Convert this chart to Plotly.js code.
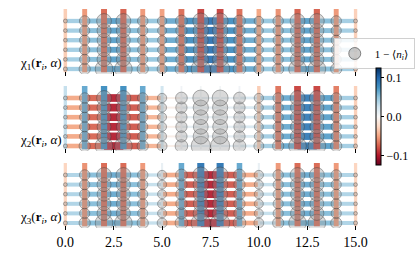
<!DOCTYPE html>
<html><head><meta charset="utf-8">
<script src="https://cdn.plot.ly/plotly-3.0.1.min.js"></script>
<style>html,body{margin:0;padding:0;background:#fff}#chart{width:415px;height:267px}</style>
</head><body><div id="chart"></div>
<script>
// ---- data ----
const sites = [0,1,2,3,4,5,6,7,8,9,10,11,12,13,14,15];
const rows = [0,1,2,3,4,5];
const xTicks = [0,2.5,5,7.5,10,12.5,15];
const xTickLabels = ['0.0','2.5','5.0','7.5','10.0','12.5','15.0'];
const panelLabels = [
  'χ<sub>1</sub>(<b>r</b><sub><i>i</i></sub>, <i>α</i>)',
  'χ<sub>2</sub>(<b>r</b><sub><i>i</i></sub>, <i>α</i>)',
  'χ<sub>3</sub>(<b>r</b><sub><i>i</i></sub>, <i>α</i>)'
];
const legendLabel = '1 − ⟨<i>n</i><sub><i>i</i></sub>⟩';
const cbTicks = [-0.1, 0, 0.1];
const cbTickLabels = ['−0.1','0.0','0.1'];

// vertical bond value per column (16) and horizontal bond value per segment (15)
const chi1Vertical   = [-0.032,-0.055,-0.072,-0.075,-0.055,-0.052,-0.07,-0.085,-0.085,-0.07,-0.05,-0.058,-0.075,-0.075,-0.055,-0.03];
const chi1Horizontal = [0.045,0.055,0.07,0.055,0.05,0.065,0.08,0.095,0.08,0.065,0.05,0.055,0.07,0.055,0.045];
const chi2Vertical   = [0.03,0.065,0.078,0.078,0.065,0.025,0.005,0.003,0.003,0.005,-0.032,-0.068,-0.085,-0.085,-0.065,-0.03];
const chi2Horizontal = [-0.05,-0.075,-0.1,-0.08,-0.045,-0.008,0.012,0.012,0.012,0.02,0.045,0.065,0.09,0.07,0.045];
const chi3Vertical   = [-0.028,-0.058,-0.072,-0.072,-0.055,0.01,0.065,0.09,0.09,0.065,0.01,-0.055,-0.072,-0.072,-0.055,-0.028];
const chi3Horizontal = [0.04,0.055,0.065,0.055,0.03,-0.05,-0.08,-0.1,-0.08,-0.05,0.03,0.055,0.065,0.055,0.04];

// hole density 1-<n_i>, row 0 = bottom
const holeRow0 = [0.014,0.11,0.27,0.27,0.11,0.085,0.14,0.32,0.32,0.14,0.085,0.11,0.27,0.27,0.11,0.014];
const holeRow1 = [0.012,0.09,0.17,0.17,0.09,0.07,0.11,0.2,0.2,0.11,0.07,0.09,0.17,0.17,0.09,0.012];
const holeRow2 = [0.012,0.09,0.165,0.165,0.09,0.07,0.11,0.19,0.19,0.11,0.07,0.09,0.165,0.165,0.09,0.012];
const holeRow3 = [0.012,0.09,0.165,0.165,0.09,0.07,0.11,0.19,0.19,0.11,0.07,0.09,0.165,0.165,0.09,0.012];
const holeRow4 = [0.012,0.09,0.17,0.17,0.09,0.07,0.11,0.2,0.2,0.11,0.07,0.09,0.17,0.17,0.09,0.012];
const holeRow5 = [0.013,0.095,0.19,0.19,0.095,0.075,0.12,0.22,0.22,0.12,0.075,0.095,0.19,0.19,0.095,0.013];
const holeRows = [holeRow0,holeRow1,holeRow2,holeRow3,holeRow4,holeRow5];

// ---- style ----
const CMIN = -0.125, CMAX = 0.125;
const rdbu = ['#67001f','#b2182b','#d6604d','#f4a582','#fddbc7','#f7f7f7','#d1e5f0','#92c5de','#4393c3','#2166ac','#053061'];
const colorscale = rdbu.map((c,i)=>[i/(rdbu.length-1), c]);
function hex(c){return [parseInt(c.slice(1,3),16),parseInt(c.slice(3,5),16),parseInt(c.slice(5,7),16)];}
function colorFor(v){
  let t = (v-CMIN)/(CMAX-CMIN); t = Math.max(0,Math.min(1,t));
  const p = t*(rdbu.length-1); const i = Math.min(Math.floor(p), rdbu.length-2); const f = p-i;
  const a = hex(rdbu[i]), b = hex(rdbu[i+1]);
  return 'rgb(' + a.map((x,k)=>Math.round(x+(b[k]-x)*f)).join(',') + ')';
}
function widthFor(v){ return 1.5 + 62*Math.abs(v); }

const FONT = 'Liberation Serif, DejaVu Serif, serif';
const W = 415, H = 267;
const xDomain = [56.2/W, 368.8/W];
const panels = [
  {v: chi1Vertical, h: chi1Horizontal, top: 6.6,  rowBottomPx: 69},
  {v: chi2Vertical, h: chi2Horizontal, top: 83.6, rowBottomPx: 146},
  {v: chi3Vertical, h: chi3Horizontal, top: 160.6, rowBottomPx: 223}
];
const yRange = [-0.5, 6.5];
const rowPx = 9.6;

const traces = [];
const layout = {
  width: W, height: H, margin: {l:0, r:0, t:0, b:0},
  paper_bgcolor: '#fff', plot_bgcolor: 'rgba(0,0,0,0)',
  showlegend: true,
  font: {family: FONT, color: '#000'},
  legend: {x: 337/W, y: 1-38/H, xanchor: 'left', yanchor: 'top',
           bgcolor: 'rgba(255,255,255,0.85)', bordercolor: '#d0d0d0', borderwidth: 1,
           font: {family: FONT, size: 11}, itemwidth: 30},
  annotations: []
};

panels.forEach((P, k) => {
  const sfx = k === 0 ? '' : String(k+1);
  const xa = 'x'+sfx, ya = 'y'+sfx;
  const bottomPx = P.top + rowPx*(yRange[1]-yRange[0]);
  // horizontal bonds
  P.h.forEach((val, j) => {
    const xs = [], ys = [];
    rows.forEach(r => { xs.push(sites[j], sites[j+1], null); ys.push(r, r, null); });
    traces.push({type:'scatter', mode:'lines', x: xs, y: ys, xaxis: xa, yaxis: ya,
      line: {color: colorFor(val), width: widthFor(val)}, opacity: 0.92,
      hoverinfo: 'skip', showlegend: false});
  });
  // vertical bonds
  P.v.forEach((val, i) => {
    traces.push({type:'scatter', mode:'lines', x: [sites[i], sites[i]], y: [rows[0]-0.35, rows[rows.length-1]+1.25],
      xaxis: xa, yaxis: ya, line: {color: colorFor(val), width: widthFor(val)}, opacity: 0.97,
      hoverinfo: 'skip', showlegend: false});
  });
  // hole density circles
  const cx = [], cy = [], cs = [];
  rows.forEach(r => sites.forEach(i => { cx.push(i); cy.push(r); cs.push(holeRows[r][i]); }));
  traces.push({type:'scatter', mode:'markers', x: cx, y: cy, xaxis: xa, yaxis: ya,
    marker: {size: cs, sizemode: 'area', sizeref: 1.7/(31.3*31.3), color: 'rgba(150,150,150,0.5)',
             line: {color: 'rgba(60,60,60,0.75)', width: 0.8}},
    hoverinfo: 'skip', showlegend: false});

  const axisPx = P.rowBottomPx + 2;
  layout['xaxis'+sfx] = {domain: xDomain, range: [-0.5, 15.5], anchor: 'free', position: 1-axisPx/H,
    showgrid: false, zeroline: false, showline: false, automargin: false,
    ticks: 'outside', ticklen: 4, tickwidth: 1, tickcolor: '#000',
    tickvals: xTicks, ticktext: xTickLabels, showticklabels: k === 2,
    tickfont: {family: FONT, size: 14, color: '#000'}};
  layout['yaxis'+sfx] = {domain: [1-bottomPx/H, 1-P.top/H], range: yRange, anchor: xa,
    visible: false, showgrid: false, zeroline: false, automargin: false};
  layout.annotations.push({xref: 'paper', yref: 'paper', x: 65/W, y: 1-(P.rowBottomPx-6)/H,
    xanchor: 'right', yanchor: 'middle', showarrow: false, text: panelLabels[k],
    font: {family: FONT, size: 13, color: '#000'}});
});

// legend entry
traces.push({type:'scatter', mode:'markers', x:[null], y:[null], name: legendLabel,
  marker: {size: 12, color: 'rgba(150,150,150,0.5)', line: {color: 'rgba(60,60,60,0.75)', width: 0.8}},
  showlegend: true, hoverinfo: 'skip'});
// colorbar
traces.push({type:'scatter', mode:'markers', x:[null], y:[null], showlegend: false, hoverinfo: 'skip',
  marker: {color: [0], cmin: CMIN, cmax: CMAX, colorscale: colorscale, showscale: true, size: 0.1,
    colorbar: {x: 380/W, xanchor: 'left', y: 1-116.5/H, yanchor: 'middle',
      thickness: 5, thicknessmode: 'pixels', len: 97, lenmode: 'pixels',
      outlinewidth: 1, outlinecolor: '#000', borderwidth: 0, xpad: 0, ypad: 0,
      ticks: 'outside', ticklen: 3, tickwidth: 1, tickcolor: '#000',
      tickvals: cbTicks, ticktext: cbTickLabels, tickfont: {family: FONT, size: 12, color: '#000'}}}});

Plotly.newPlot('chart', traces, layout, {displayModeBar: false, staticPlot: true});
</script></body></html>
